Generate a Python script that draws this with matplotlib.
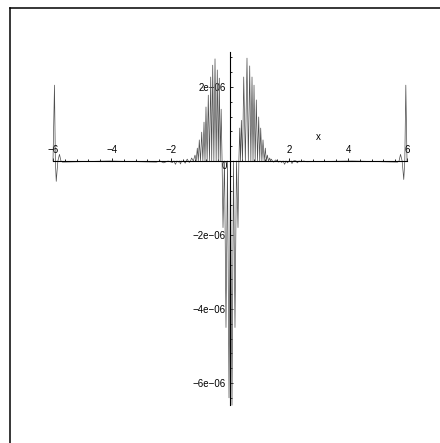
import numpy as np
import matplotlib.pyplot as plt
from matplotlib.lines import Line2D
from matplotlib.ticker import FixedLocator, NullFormatter

plt.rcParams['font.family'] = ['Liberation Sans', 'DejaVu Sans']

# Extremes of the curve (x, y in units of 1e-06)
edgeLeftX = [-5.95, -5.89, -5.78, -5.68]
edgeLeftY = [2.05, -0.55, 0.18, -0.03]

wiggleLeftX = [-2.5, -2.25, -1.95, -1.85, -1.75, -1.68, -1.6, -1.52, -1.45, -1.38, -1.3]
wiggleLeftY = [-0.03, -0.05, -0.04, -0.09, -0.03, -0.08, -0.02, -0.06, 0.05, -0.04, 0.08]

clusterLeftX = [-1.186, -1.108, -1.041, -0.959, -0.881, -0.814, -0.736, -0.654, -0.586, -0.508, -0.431, -0.363, -0.30]
clusterLeftY = [0.16, 0.35, 0.57, 0.78, 1.05, 1.46, 1.78, 2.27, 2.59, 2.76, 2.46, 2.24, 1.4]

centreX = [-0.237, -0.136, -0.034, 0.068, 0.169, 0.271]
centreY = [-1.8, -4.5, -6.4, -6.6, -4.5, -1.8]

clusterRightX = [0.33, 0.385, 0.465, 0.576, 0.668, 0.746, 0.814, 0.892, 0.973, 1.041, 1.119, 1.197, 1.264, 1.346]
clusterRightY = [0.89, 1.1, 2.27, 2.78, 2.57, 2.27, 2.05, 1.65, 1.19, 0.89, 0.57, 0.35, 0.16, 0.08]

wiggleRightX = [1.4, 1.48, 1.55, 1.65, 1.75, 1.85, 1.95, 2.05, 2.1, 2.2, 2.28, 2.4, 2.6]
wiggleRightY = [0.05, -0.03, 0.03, -0.03, -0.04, -0.09, -0.05, -0.02, -0.07, 0.01, -0.05, -0.02, -0.02]

edgeRightX = [5.68, 5.78, 5.89, 5.96]
edgeRightY = [-0.03, 0.18, -0.5, 2.05]

xTicks = [-6, -4, -2, 2, 4, 6]
yTicks = [-6e-6, -4e-6, -2e-6, 2e-6]
yTickLabels = ['\u22126e\u221206', '\u22124e\u221206', '\u22122e\u221206', '2e\u221206']

# Join the extremes, passing through zero between two of them
extX = np.array(edgeLeftX + wiggleLeftX + clusterLeftX + centreX + clusterRightX + wiggleRightX + edgeRightX)
extY = np.array(edgeLeftY + wiggleLeftY + clusterLeftY + centreY + clusterRightY + wiggleRightY + edgeRightY) * 1e-6
midX = 0.5*(extX[:-1] + extX[1:])
curveX = [-6.0]
curveY = [0.0]
for i in range(len(extX)):
    curveX.append(extX[i])
    curveY.append(extY[i])
    if i < len(midX):
        curveX.append(midX[i])
        curveY.append(0.0)
curveX.append(6.0)
curveY.append(0.0)

fig = plt.figure(figsize=(4.4, 4.43), dpi=100)
ax = fig.add_axes([0, 0, 1, 1])

# 29.5 px per x unit, 37 px per 1e-06, origin at pixel (230, 161)
ax.set_xlim(-230/29.5, 210/29.5)
ax.set_ylim(-282/37*1e-6, 161/37*1e-6)

ax.plot(curveX, curveY, color='0.3', lw=0.5)

for side in ['top', 'right']:
    ax.spines[side].set_visible(False)
ax.spines['bottom'].set_position(('data', 0))
ax.spines['left'].set_position(('data', 0))
ax.spines['bottom'].set_bounds(-6, 6)
ax.spines['left'].set_bounds(-6.6e-6, 2.95e-6)
ax.spines['bottom'].set_linewidth(0.8)
ax.spines['left'].set_linewidth(0.8)

ax.xaxis.set_major_locator(FixedLocator(xTicks))
ax.xaxis.set_minor_locator(FixedLocator(np.arange(-6, 6.01, 0.4)))
ax.xaxis.set_major_formatter(NullFormatter())
ax.yaxis.set_major_locator(FixedLocator(yTicks))
ax.yaxis.set_minor_locator(FixedLocator(np.arange(-6.4e-6, 2.9e-6, 0.4e-6)))
ax.set_yticklabels(yTickLabels)
ax.tick_params(which='major', direction='in', length=2.5, width=0.6, labelsize=7, pad=3)
ax.tick_params(which='minor', direction='in', length=1.2, width=0.6)

for t in xTicks:
    lab = str(t) if t > 0 else '\u2212' + str(-t)
    ax.text(t, 0.3e-6, lab, fontsize=7, ha='center', va='center')
ax.text(-0.2, -0.14e-6, '0', fontsize=7, ha='center', va='center')
ax.text(2.98, 0.65e-6, 'x', fontsize=7, ha='center', va='center')

# Frame lines at the top and the left
fig.add_artist(Line2D([10/440, 1], [1 - 8/443, 1 - 8/443], color='black', lw=1.1))
fig.add_artist(Line2D([10/440, 10/440], [0, 1 - 8/443], color='black', lw=1.1))

plt.savefig('out.png')
